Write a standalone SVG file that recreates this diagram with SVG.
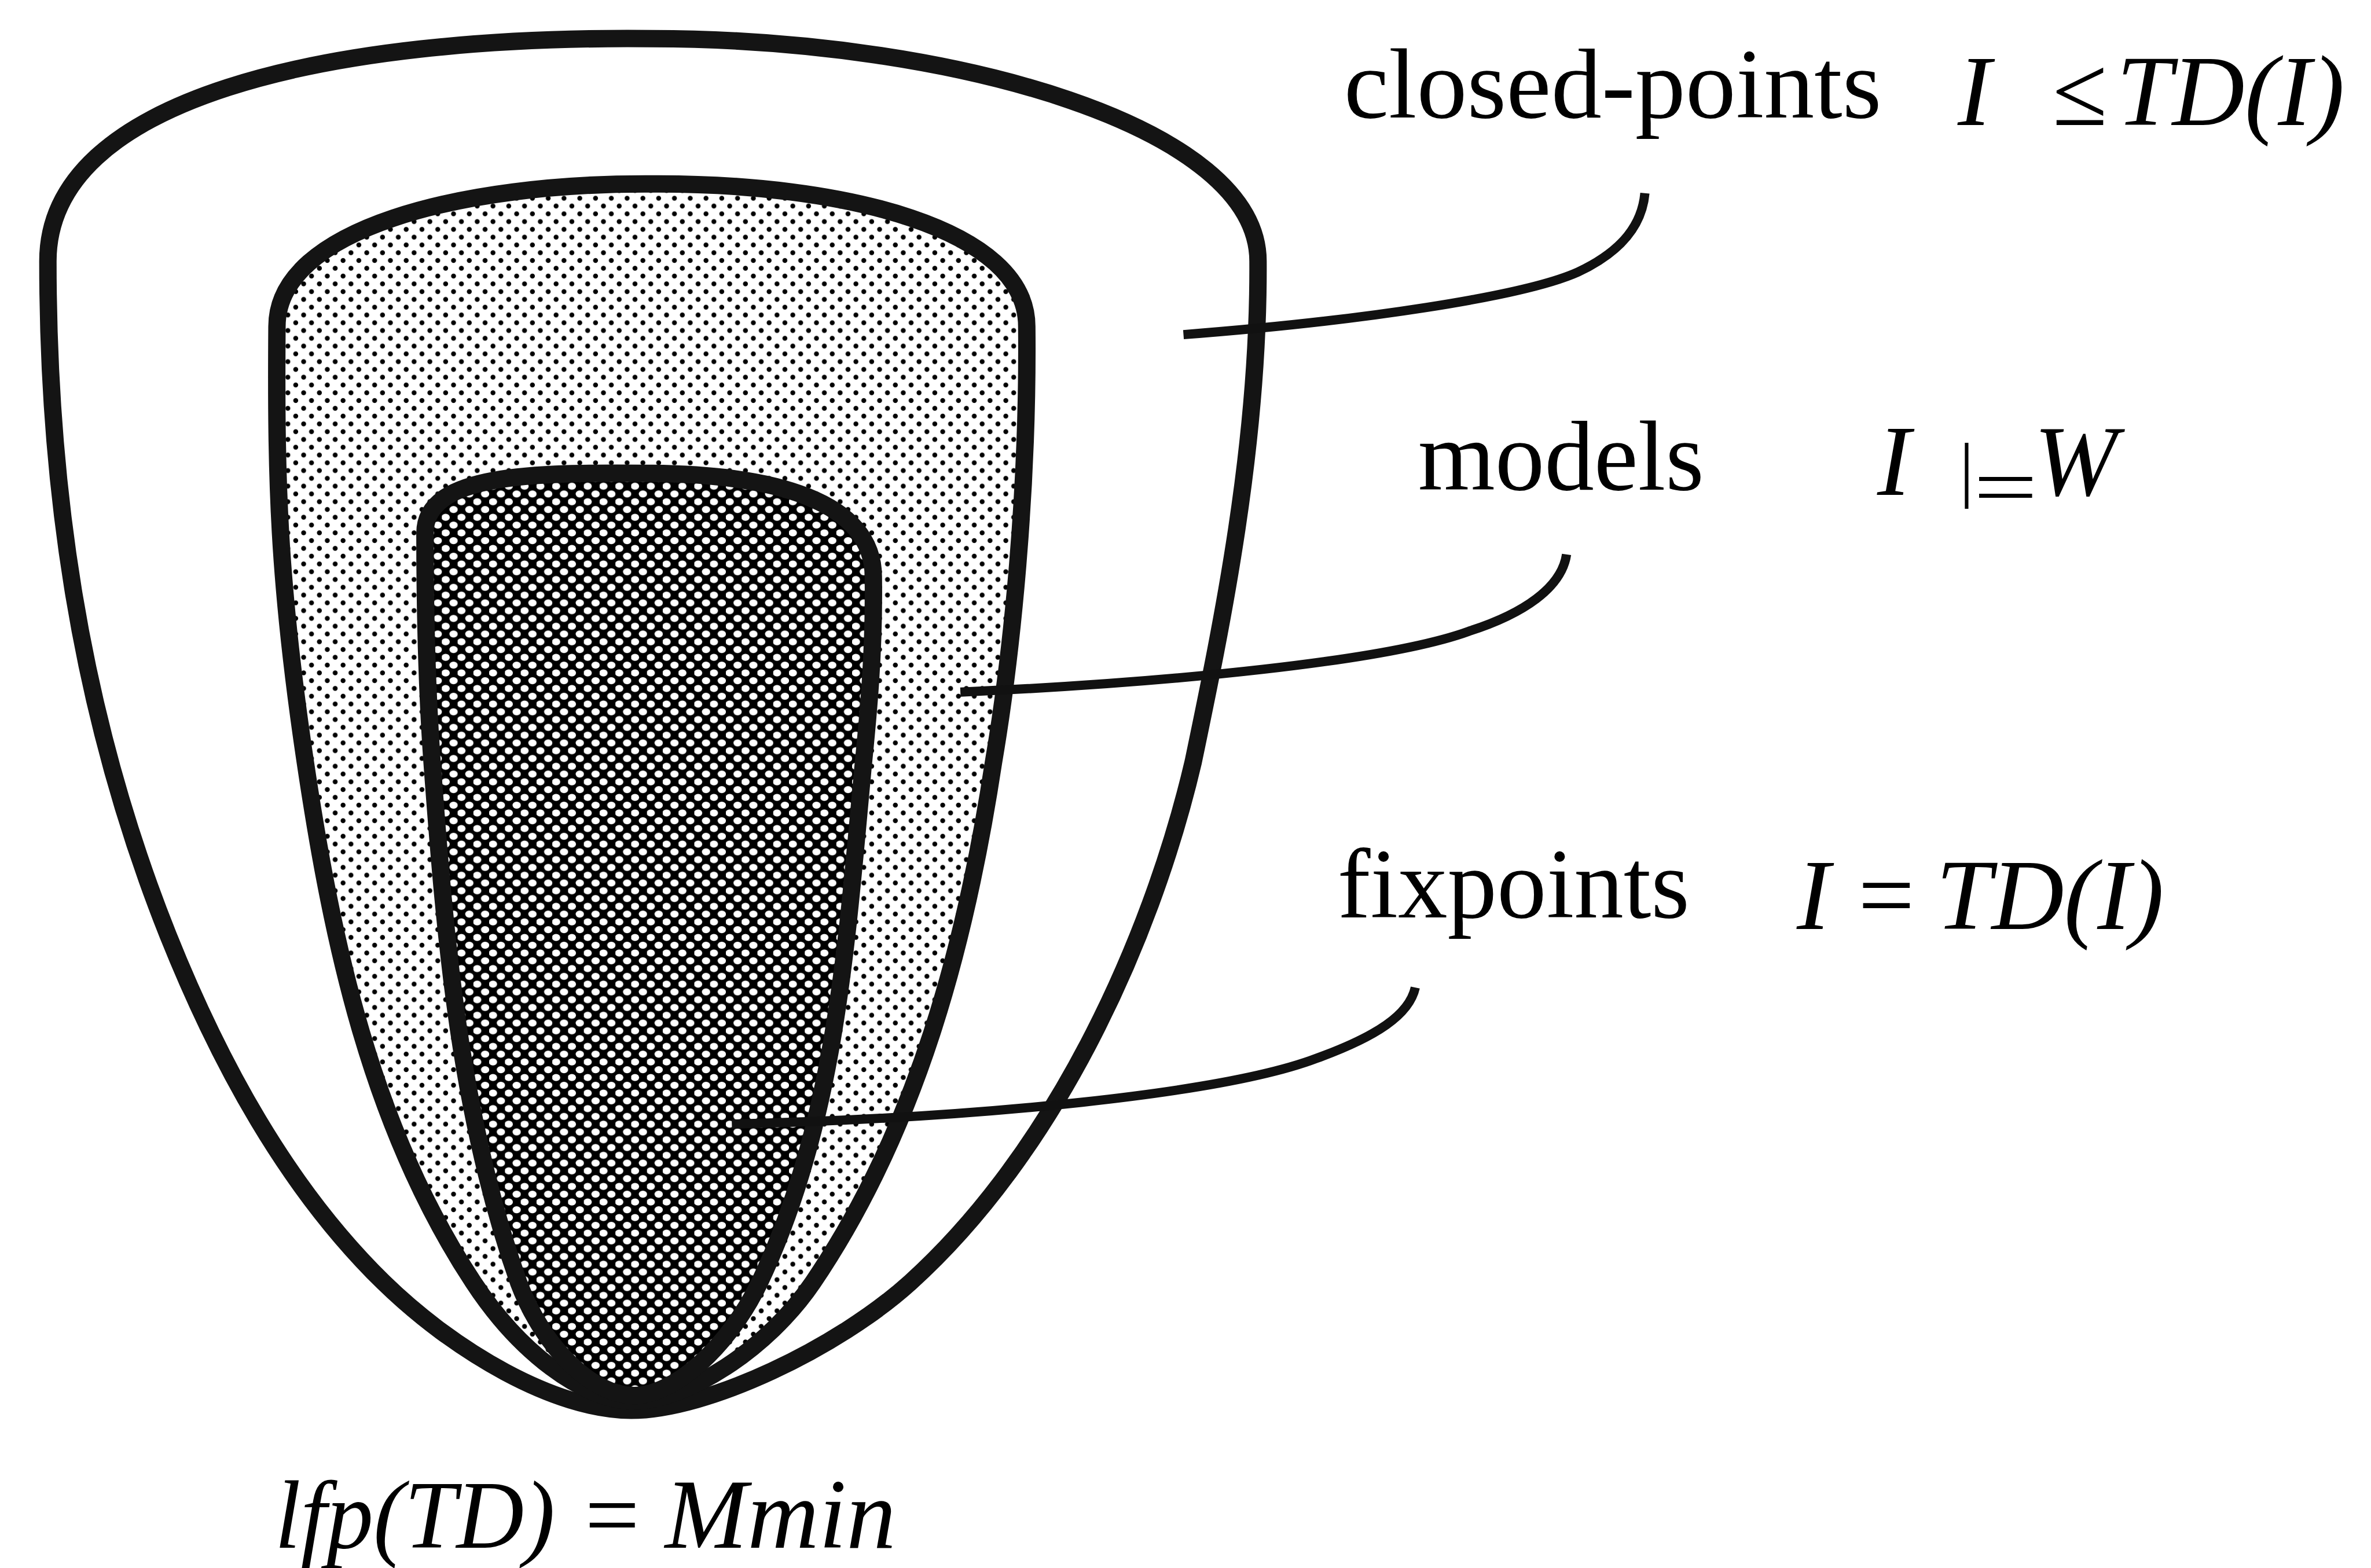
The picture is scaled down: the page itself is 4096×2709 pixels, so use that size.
<svg xmlns="http://www.w3.org/2000/svg" width="4096" height="2709" viewBox="0 0 4096 2709">
<defs>
<pattern id="light" patternUnits="userSpaceOnUse" width="29" height="28.6">
<rect width="29" height="28.6" fill="#fff"/>
<circle cx="7" cy="7" r="4.5" fill="#000"/>
<circle cx="21.5" cy="21.3" r="4.5" fill="#000"/>
</pattern>
<pattern id="dark" patternUnits="userSpaceOnUse" width="29" height="28.6">
<rect width="29" height="28.6" fill="#000"/>
<ellipse cx="7" cy="7" rx="7.6" ry="6.6" fill="#fff"/>
<ellipse cx="21.5" cy="21.3" rx="7.6" ry="6.6" fill="#fff"/>
</pattern>
<style>
.shape{stroke:#141414;stroke-width:32;stroke-linejoin:round}
.conn{fill:none;stroke:#111;stroke-width:17}
.t{font-family:"Liberation Serif","Times New Roman",serif;fill:#000}
.i{font-style:italic}
</style>
</defs>
<rect width="4096" height="2709" fill="#fff"/>
<g transform="scale(0.94)">
<g id="closed-points-set">
<path class="shape" fill="#fff" d="M 1198,71 C 1760,72 2312,235 2312,480 C 2314,820 2245,1150 2193,1400 C 2113,1741 1933,2122 1673,2357 C 1539,2478 1300,2592 1160,2592 C 1020,2592 834,2483 705,2357 C 526,2182 402,1951 309,1719 C 142,1301 88,880 88,480 C 88,180 600,65 1198,71 Z"/>
</g>
<g id="models-set">
<path class="shape" fill="url(#light)" d="M 1198,338 C 1550,336 1887,420 1887,600 C 1890,900 1860,1200 1826,1400 C 1775,1736 1685,2075 1494,2357 C 1410,2481 1260,2575 1165,2575 C 1070,2575 952,2482 870,2357 C 683,2073 611,1736 561,1400 C 511,1064 507,880 509,600 C 509,420 850,336 1198,338 Z"/>
</g>
<g id="fixpoints-set">
<path class="shape" fill="url(#dark)" d="M 1198,870 C 1420,872 1605,920 1605,1060 C 1607,1200 1595,1320 1587,1400 C 1556,1729 1537,2059 1396,2357 C 1340,2474 1240,2565 1165,2565 C 1090,2565 999,2479 953,2357 C 845,2050 818,1729 794,1400 C 784,1260 781,1120 781,980 C 781,870 980,868 1198,870 Z"/>
</g>
<g id="connectors">
<path class="conn" d="M 2175,615 C 2500,590 2800,545 2900,500 C 2985,460 3018,410 3023,355"/>
<path class="conn" d="M 1765,1272 C 2150,1255 2550,1215 2700,1160 C 2800,1128 2870,1080 2879,1019"/>
<path class="conn" d="M 1345,2066 C 1800,2055 2250,2010 2420,1945 C 2530,1905 2590,1865 2601,1815"/>
</g>
<g id="label-closed-points">
<text class="t" x="2470" y="216" font-size="182" textLength="988" lengthAdjust="spacingAndGlyphs">closed-points</text>
<text class="t i" x="3598" y="230" font-size="184">I</text>
<text class="t" x="3772" y="230" font-size="184">≤</text>
<text class="t i" x="3890" y="230" font-size="184">TD(I)</text>
</g>
<g id="label-models">
<text class="t" x="2606" y="900" font-size="182">models</text>
<text class="t i" x="3450" y="910" font-size="184">I</text>
<text class="t" x="3601" y="906" font-size="132">|</text>
<text class="t" x="3627" y="946" font-size="150" textLength="118" lengthAdjust="spacingAndGlyphs">=</text>
<text class="t i" x="3738" y="910" font-size="184">W</text>
</g>
<g id="label-fixpoints">
<text class="t" x="2458" y="1686" font-size="182">fixpoints</text>
<text class="t i" x="3302" y="1707" font-size="184">I</text>
<text class="t" x="3415" y="1707" font-size="184">=</text>
<text class="t i" x="3558" y="1707" font-size="184">TD(I)</text>
</g>
<g id="label-lfp">
<text class="t i" x="505" y="2845" font-size="178" textLength="515" lengthAdjust="spacingAndGlyphs">lfp(TD)</text>
<text class="t" x="1075" y="2845" font-size="178">=</text>
<text class="t i" x="1222" y="2845" font-size="182">Mmin</text>
</g>
</g>
</svg>
